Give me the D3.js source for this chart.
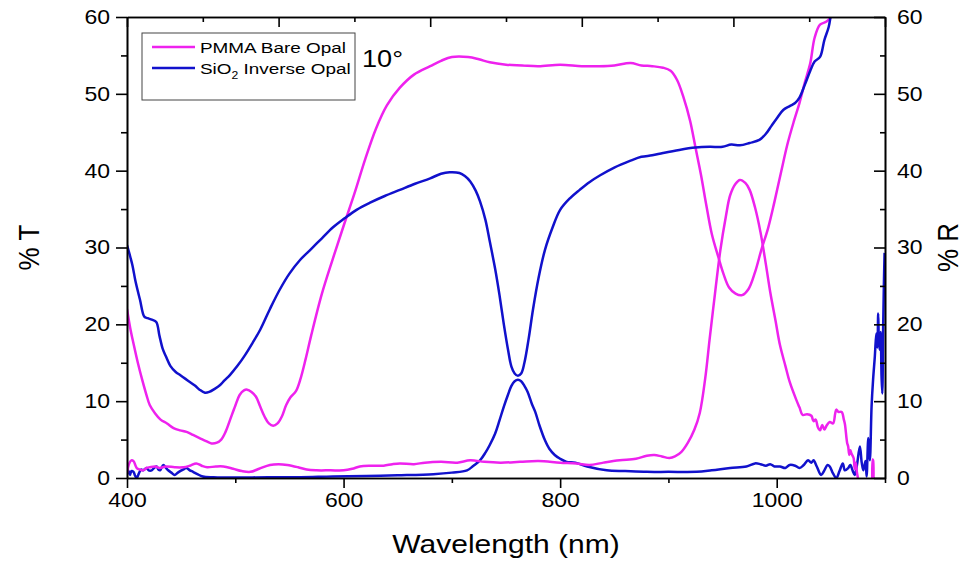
<!DOCTYPE html>
<html>
<head>
<meta charset="utf-8">
<script src="https://cdn.jsdelivr.net/npm/d3@7"></script>
<style>
  html, body { margin: 0; padding: 0; background: #fff; }
  svg { display: block; font-family: "Liberation Sans", Arial, sans-serif; }
</style>
</head>
<body>
<svg id="chart" width="967" height="562"></svg>
<script>
// Spectra: [wavelength (nm), percent]
const pmmaTransmission = [
  [400,22],[403,19.5],[406,17.5],[410,15],[414,12.8],[418,10.8],[421,9.5],[426,8.4],[431,7.6],
  [437,7.1],[443,6.5],[449,6.2],[455,6.0],[461,5.6],[467,5.2],[473,4.8],[478,4.5],[483,4.6],
  [487,5.0],[491,6.0],[495,7.5],[500,9.4],[504,10.8],[508,11.4],[511,11.5],[515,11.2],[519,10.6],
  [523,9.3],[527,8.0],[531,7.1],[535,6.8],[539,7.1],[543,8.0],[547,9.5],[551,10.5],[556,11.3],
  [560,12.8],[565,15.5],[570,18.5],[580,24],[590,28.5],[600,32.8],[610,37],[620,41.5],[630,45.5],
  [640,48.5],[652,50.8],[665,52.5],[680,53.6],[690,54.3],[700,54.8],[715,54.8],[725,54.5],
  [735,54.1],[750,53.8],[765,53.7],[780,53.6],[800,53.8],[820,53.6],[836,53.6],[850,53.7],
  [865,54.0],[875,53.7],[885,53.6],[895,53.4],[902,53.0],[908,51.8],[914,49.5],[920,46.5],
  [925,43],[930,39.5],[935,35.5],[940,31.8],[946,28.8],[951,26.5],[956,24.8],[962,24.0],
  [968,23.8],[974,24.6],[980,26.8],[986,29.8],[992,32.5],[998,36],[1004,39.8],[1010,43.5],
  [1016,46.5],[1021,48.8],[1026,51.5],[1031,54],[1035,57.3],[1040,59],[1046,59.4],[1051,60.2],[1056,62]
];

const pmmaReflectance = [
  [400,0.6],[402,1.9],[404,2.3],[406,2.2],[409,1.3],[412,1.1],[415,1.0],[418,1.3],[421,1.4],
  [426,1.5],[430,1.3],[436,1.5],[444,1.4],[452,1.4],[458,1.6],[464,1.9],[469,1.6],[474,1.4],
  [482,1.5],[489,1.5],[498,1.2],[506,0.9],[514,0.8],[522,1.2],[532,1.7],[540,1.8],[548,1.7],
  [558,1.4],[566,1.1],[575,1.0],[588,1.0],[600,1.0],[608,1.2],[615,1.5],[625,1.6],[637,1.6],
  [645,1.8],[652,1.9],[665,1.8],[675,2.0],[690,2.1],[705,2.0],[717,2.3],[730,2.1],[745,2.0],
  [763,2.1],[780,2.2],[800,2.0],[815,1.9],[827,1.7],[840,2.0],[855,2.3],[870,2.5],[880,2.9],
  [887,3.0],[894,2.8],[901,2.6],[906,2.8],[912,3.4],[918,4.6],[924,6.3],[929,8.5],[934,13],
  [938,18],[943,24],[948,29.7],[953,34],[957,36.8],[962,38.3],[966,38.8],[971,38.4],[975,37.5],
  [980,35.2],[985,32],[990,27.8],[994,24.2],[999,20.4],[1003,17.3],[1008,14.6],[1012,12.5],
  [1018,10.2],[1021,9.2],[1024,8.2],[1028,8.3],[1032,8.1],[1034,7.4],[1036,7.6],[1038,6.6],
  [1040,6.2],[1042,6.9],[1044,6.3],[1046,6.8],[1049,7.3],[1052,7.1],[1054,8.4],[1055,8.9],
  [1057,8.6],[1060,8.6],[1062,7.6],[1063,7.0],[1065,4.6],[1066,4.1],[1067,3.0],[1068,3.6],
  [1069,3.2],[1071,2.6],[1072,1.2],[1073,2.0],[1074,0.8],[1075,0],
  null,
  [1088.2,0],[1088.6,2.4],[1089,2.3],[1089.4,0]
];

const sio2Transmission = [
  [400,30.3],[403,28.8],[405,27.7],[408,25.5],[412,23.2],[416,21.0],[419,20.8],[423,20.6],
  [427,20.3],[430,18.5],[433,16.8],[436,15.8],[440,14.6],[445,13.8],[449,13.4],[454,12.9],
  [458,12.5],[463,12.0],[467,11.5],[472,11.1],[476,11.2],[481,11.6],[486,12.1],[490,12.7],
  [495,13.4],[502,14.6],[509,16],[516,17.6],[523,19.3],[532,22],[541,24.5],[550,26.6],
  [560,28.4],[570,29.8],[580,31.2],[590,32.6],[601,33.8],[612,34.9],[624,35.8],[638,36.7],
  [652,37.5],[666,38.3],[680,39.0],[690,39.6],[698,39.8],[707,39.7],[712,39.3],[717,38.6],
  [722,37.4],[726,36],[731,33.6],[735,30.8],[740,27.2],[744,23.8],[748,20.0],[752,16.6],
  [755,14.5],[758,13.6],[761,13.3],[764,13.6],[767,15.0],[771,18.2],[775,22],[780,26],
  [786,29.7],[793,32.6],[800,34.9],[809,36.4],[818,37.5],[827,38.5],[837,39.4],[850,40.4],
  [865,41.3],[875,41.8],[885,42.0],[895,42.3],[910,42.7],[925,43.0],[938,43.1],[950,43.1],
  [958,43.4],[966,43.3],[975,43.6],[984,44],[990,44.8],[995,45.8],[1000,46.8],[1006,47.9],
  [1012,48.4],[1017,48.8],[1021,49.5],[1026,51.2],[1031,53],[1035,54.2],[1040,54.8],
  [1044,57],[1048,58.7],[1050,60.3],[1052,62]
];

const sio2Reflectance = [
  [400,0.6],[401,1.0],[402.8,0.4],[404,0.9],[406,0.8],[407.5,0.3],[409,0],[411,0.6],[413,1.1],
  [415,1.0],[418,1.3],[420,1.0],[422.8,1.0],[425,1.3],[427.4,1.5],[429,1.1],[430.5,1.0],
  [433.5,1.7],[436,1.3],[438,1.0],[441,0.7],[444,0.4],[447,0.7],[450.5,1.0],[453,1.2],
  [455,1.3],[458,1.0],[461,0.8],[465,0.5],[470,0.2],[480,0.1],[498,0.05],[530,0.1],[560,0.1],
  [590,0.2],[621,0.25],[650,0.35],[683,0.5],[700,0.7],[714,1.0],[720,1.6],[726,2.3],
  [731,3.3],[735,4.3],[740,5.8],[744,7.5],[748,9.3],[752,10.9],[755,12.0],[758,12.6],
  [761,12.8],[764,12.6],[767,12.0],[770,11.2],[774,9.6],[777,8.6],[781,6.8],[786,4.9],
  [790,3.8],[795,3.0],[800,2.5],[806,2.1],[814,2.0],[825,1.5],[843,1.0],[860,0.9],
  [880,0.8],[900,0.8],[926,0.8],[940,1.0],[957,1.3],[972,1.5],[980,1.9],[985,1.8],[990,1.6],
  [994,1.8],[998,1.5],[1003,1.5],[1008,1.3],[1012,1.7],[1017,1.6],[1021,1.3],[1025,1.7],
  [1029,2.3],[1032,2.0],[1034,2.3],[1037,1.5],[1041,0.4],[1044,1.0],[1047,1.7],[1049,1.5],
  [1052,0.6],[1055,0],[1058,0.9],[1061,1.9],[1063,1.0],[1066,1.3],[1068,1.7],[1070,1.0],
  [1072,0.4],[1074,1.6],[1076.8,4.1],[1078.5,2.0],[1080,1.0],[1082,2.2],[1083,0.2],
  [1084.6,5.2],[1086,2.3],[1087.6,9.3],[1089,12.8],[1090.6,15.8],[1092,18.8],[1093,17],
  [1093.7,21.4],[1094.3,18],[1095,16.7],[1096,19],[1096.8,13.2],[1097.5,11],[1098.3,19.7],
  [1099,25.4],[1099.6,29.3]
];

// Axis ranges and tick values
const xDomain = [400, 1100];
const yDomain = [0, 60];
const xMajorTicks = [400, 600, 800, 1000];
const xMinorTicks = [500, 700, 900, 1100];
const yMajorTicks = [0, 10, 20, 30, 40, 50, 60];
const yMinorTicks = [5, 15, 25, 35, 45, 55];
const topTicks = [0,1,2,3,4,5,6,7,8,9,10];

const seriesColors = { pmma: "#ee22ee", sio2: "#1111cc" };
const legendItems = [
  { key: "pmma", label: "PMMA Bare Opal" },
  { key: "sio2", label: "SiO", sub: "2", rest: " Inverse Opal" }
];

const margin = { left: 127, right: 82, top: 17, bottom: 84 };
const width = 967, height = 562;
const svg = d3.select("#chart");

const x = d3.scaleLinear().domain(xDomain).range([margin.left, width - margin.right]);
const y = d3.scaleLinear().domain(yDomain).range([height - margin.bottom, margin.top]);
const xTop = d3.scaleLinear().domain([0, 10]).range(x.range());

// widen glyphs horizontally around their own anchor point
function widen(sel, s) {
  sel.each(function () {
    const t = d3.select(this);
    const tx = +t.attr("x") || 0, ty = +t.attr("y") || 0;
    t.attr("x", 0).attr("y", 0).attr("transform", `translate(${tx},${ty}) scale(${s},1)`);
  });
}

// clip region for the curves
svg.append("defs").append("clipPath").attr("id", "plotClip")
  .append("rect")
  .attr("x", x.range()[0]).attr("y", y.range()[1])
  .attr("width", x.range()[1] - x.range()[0])
  .attr("height", y.range()[0] - y.range()[1]);

const line = d3.line()
  .defined(d => d !== null)
  .x(d => x(d[0]))
  .y(d => y(d[1]))
  .curve(d3.curveCatmullRom.alpha(0.5));

const curves = svg.append("g").attr("clip-path", "url(#plotClip)");
[
  [sio2Reflectance, "sio2"],
  [pmmaReflectance, "pmma"],
  [pmmaTransmission, "pmma"],
  [sio2Transmission, "sio2"]
].forEach(([data, key]) => {
  curves.append("path")
    .datum(data)
    .attr("fill", "none")
    .attr("stroke", seriesColors[key])
    .attr("stroke-width", 2.5)
    .attr("stroke-linejoin", "round")
    .attr("d", line);
});

// Axes
const axisFont = "20px";
function styleAxis(g) {
  g.selectAll(".domain").attr("stroke", "#000").attr("stroke-width", 1.6);
  g.selectAll(".tick line").attr("stroke", "#000").attr("stroke-width", 1.6);
  g.selectAll("text").attr("fill", "#000").style("font-size", axisFont)
    .style("font-family", '"Liberation Sans", Arial, sans-serif');
}

const yBottom = y.range()[0], yTopPx = y.range()[1];
const xLeft = x.range()[0], xRight = x.range()[1];

// bottom
svg.append("g").attr("transform", `translate(0,${yBottom})`)
  .call(d3.axisBottom(x).tickValues(xMinorTicks).tickSize(5).tickFormat("").tickSizeOuter(0))
  .call(styleAxis);
const bottomAxis = svg.append("g").attr("transform", `translate(0,${yBottom})`)
  .call(d3.axisBottom(x).tickValues(xMajorTicks).tickSize(10).tickPadding(5).tickFormat(d3.format("d")).tickSizeOuter(0))
  .call(styleAxis);
widen(bottomAxis.selectAll("text"), 1.15);

// top (inward ticks)
svg.append("g").attr("transform", `translate(0,${yTopPx})`)
  .call(d3.axisTop(xTop).tickValues(topTicks.filter(d => d % 2 === 1)).tickSize(-5).tickFormat("").tickSizeOuter(0))
  .call(styleAxis);
svg.append("g").attr("transform", `translate(0,${yTopPx})`)
  .call(d3.axisTop(xTop).tickValues(topTicks.filter(d => d % 2 === 0)).tickSize(-10).tickFormat("").tickSizeOuter(0))
  .call(styleAxis);

// left
svg.append("g").attr("transform", `translate(${xLeft},0)`)
  .call(d3.axisLeft(y).tickValues(yMinorTicks).tickSize(6).tickFormat("").tickSizeOuter(0))
  .call(styleAxis);
const leftAxis = svg.append("g").attr("transform", `translate(${xLeft},0)`)
  .call(d3.axisLeft(y).tickValues(yMajorTicks).tickSize(11).tickPadding(6).tickFormat(d3.format("d")).tickSizeOuter(0))
  .call(styleAxis);
widen(leftAxis.selectAll("text"), 1.15);

// right (inward ticks, labels outside)
svg.append("g").attr("transform", `translate(${xRight},0)`)
  .call(d3.axisRight(y).tickValues(yMinorTicks).tickSize(-5).tickFormat("").tickSizeOuter(0))
  .call(styleAxis);
const rightAxis = svg.append("g").attr("transform", `translate(${xRight},0)`)
  .call(d3.axisRight(y).tickValues(yMajorTicks).tickSize(-11).tickPadding(0).tickFormat(d3.format("d")).tickSizeOuter(0))
  .call(styleAxis);
rightAxis.selectAll("text").attr("x", 12);
widen(rightAxis.selectAll("text"), 1.15);

// Axis titles
svg.append("text")
  .attr("transform", `translate(${(xLeft + xRight) / 2},553) scale(1.2,1)`)
  .attr("text-anchor", "middle")
  .style("font-size", "25px")
  .text("Wavelength (nm)");

svg.append("text")
  .attr("transform", `translate(39,${(yBottom + yTopPx) / 2}) rotate(-90) scale(1,1.1)`)
  .attr("text-anchor", "middle")
  .style("font-size", "26px")
  .text("% T");

svg.append("text")
  .attr("transform", `translate(958,${(yBottom + yTopPx) / 2}) rotate(-90) scale(1,1.1)`)
  .attr("text-anchor", "middle")
  .style("font-size", "26px")
  .text("% R");

// Legend
const legend = svg.append("g").attr("transform", "translate(142,33)");
legend.append("rect")
  .attr("width", 213).attr("height", 67)
  .attr("fill", "#fff").attr("stroke", "#444").attr("stroke-width", 1);

legendItems.forEach((item, i) => {
  const ly = 14 + i * 21;
  legend.append("line")
    .attr("x1", 10).attr("x2", 53).attr("y1", ly).attr("y2", ly)
    .attr("stroke", seriesColors[item.key]).attr("stroke-width", 2.5);
  const t = legend.append("text")
    .attr("transform", `translate(58,${ly + 5.5}) scale(1.22,1)`)
    .style("font-size", "15.5px")
    .text(item.label);
  if (item.sub) {
    t.append("tspan").attr("dy", 5).style("font-size", "10px").text(item.sub);
    t.append("tspan").attr("dy", -5).text(item.rest);
  }
});

svg.append("text")
  .attr("transform", "translate(362,67) scale(1.18,1)")
  .style("font-size", "23px")
  .text("10°");
</script>
</body>
</html>
